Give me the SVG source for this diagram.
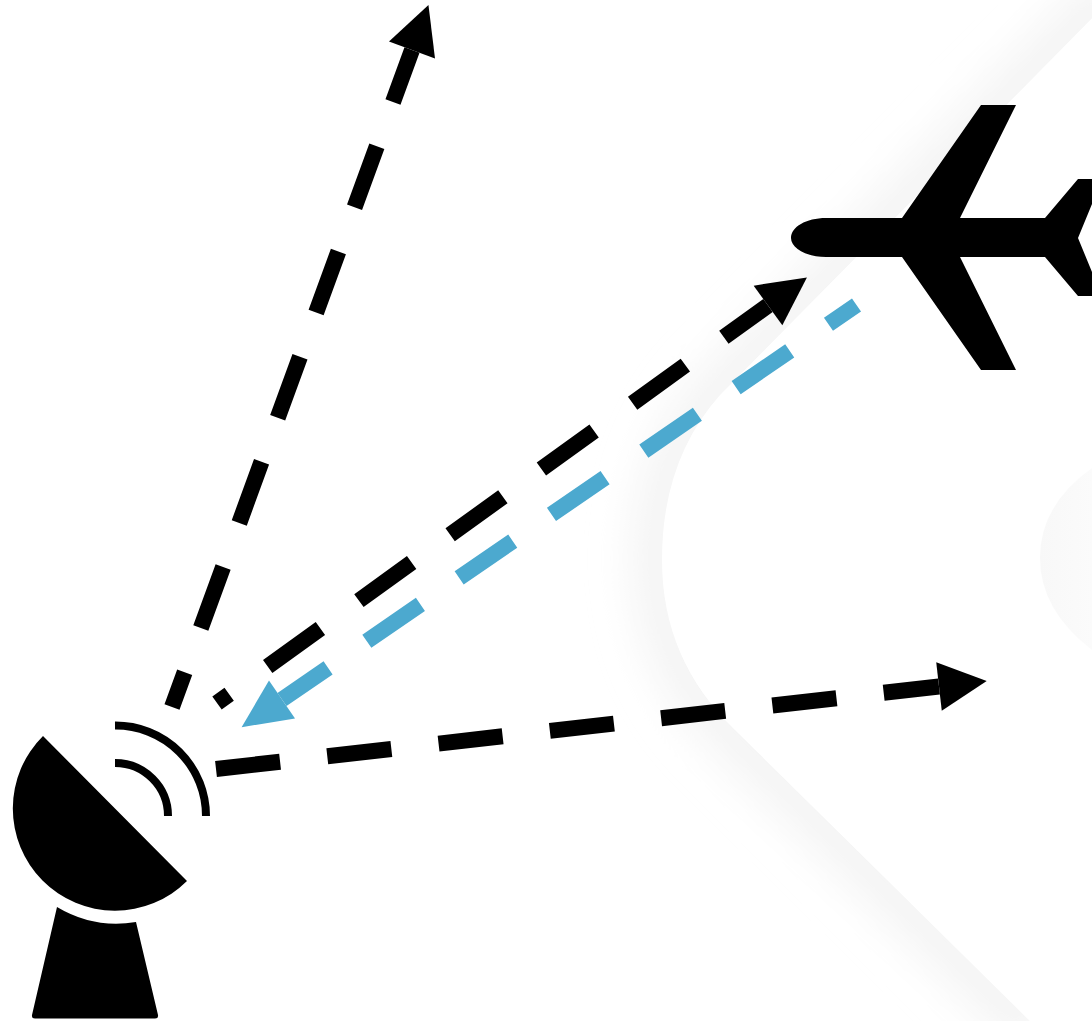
<svg xmlns="http://www.w3.org/2000/svg" width="1092" height="1021" viewBox="0 0 1092 1021">
<style>
.k{fill:none;stroke:#000;stroke-width:16;stroke-dasharray:65 47.500;marker-end:url(#hk)}
.b{fill:none;stroke:#4ca9cf;stroke-width:16;stroke-dasharray:65 47;marker-end:url(#hb)}
.arc{fill:none;stroke:#000;stroke-width:8}
</style>
<defs>
<marker id="hk" markerUnits="userSpaceOnUse" markerWidth="48" markerHeight="50" refX="0" refY="25" orient="auto" overflow="visible"><path d="M0,0.500L48,25L0,49.500z" fill="#000"/></marker>
<marker id="hb" markerUnits="userSpaceOnUse" markerWidth="49" markerHeight="50" refX="0" refY="25" orient="auto" overflow="visible"><path d="M0,2L49,25L0,48z" fill="#4ca9cf"/></marker>
<filter id="blur" x="-20%" y="-20%" width="140%" height="140%"><feGaussianBlur stdDeviation="20"/></filter>
<linearGradient id="fade" x1="0" x2="1" y1="0" y2="0"><stop offset="0" stop-color="#f8f8f8"/><stop offset="1" stop-color="#fbfbfb"/></linearGradient>
</defs>
<rect width="1092" height="1021" fill="#fff"/>
<g id="background">
<path d="M1120,-10L720,395Q662,460 662,560Q662,660 735,730L1040,1031" fill="none" stroke="#f4f4f4" stroke-width="60" filter="url(#blur)"/>
<path d="M1120,-10L720,395Q662,460 662,560Q662,660 735,730L1040,1031H1092V-10z" fill="#fff"/>
<path d="M1092,468Q1040,505 1040,558Q1040,610 1092,650z" fill="url(#fade)"/>
</g>
<g id="connectors">
<path class="k" d="M172,707L412,50" stroke-dashoffset="28" style="stroke-dasharray:65 47"/>
<path class="k" d="M217,703L768,305.500" stroke-dashoffset="50"/>
<path class="k" d="M216,769L939,686.500" style="stroke-dasharray:64.500 47.500"/>
<path class="b" d="M856.500,305L282,699.500" stroke-dashoffset="31"/>
</g>
<g id="antenna">
<path d="M43,736L187,881A102,102 0 0 1 43,736z" fill="#000"/>
<path d="M57,907A117,117 0 0 0 136,922L158,1015Q158.500,1018.500 155,1018.500H35Q31.500,1018.500 32,1015z" fill="#000"/>
<path class="arc" d="M115,725.500A90.500,90.500 0 0 1 206,816"/>
<path class="arc" d="M115,763A53,53 0 0 1 168,816"/>
</g>
<g id="airplane">
<path d="M826,218H902L981,105H1016L960,218H1045L1078,179H1092V204L1078,238L1092,272V296H1078L1045,257H960L1016,370H981L902,257H826C806,257 791,248 791,238C791,227 806,218 826,218z" fill="#000"/>
</g>
</svg>
